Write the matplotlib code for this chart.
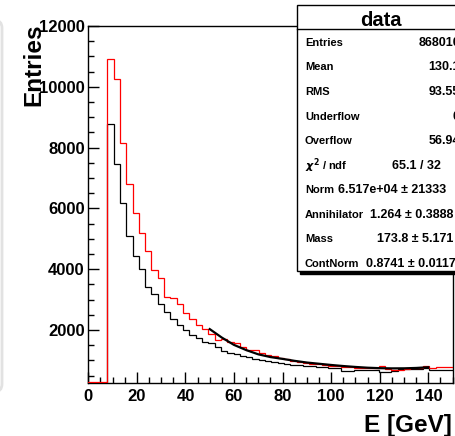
import numpy as np
import matplotlib
matplotlib.use("Agg")
import matplotlib.pyplot as plt
from matplotlib.patches import Rectangle, FancyBboxPatch

plt.rcParams['font.family'] = ['Liberation Sans', 'DejaVu Sans']
plt.rcParams['font.weight'] = 'bold'

# histogram binning (GeV)
bin_width = 2.6
n_bins = 58

# red histogram (data)
red_counts = [300, 300, 300, 10900, 10250, 8140, 6790, 5840, 5200, 4600,
              3975, 3700, 3100, 3040, 2850, 2550, 2370, 2150, 2020, 1870,
              1680, 1690, 1620, 1560, 1430, 1350, 1340, 1250, 1190, 1130,
              1080, 1040, 990, 960, 920, 890, 880, 860, 830, 800,
              790, 770, 760, 750, 740, 750, 820, 730, 700, 700,
              720, 740, 760, 830, 760, 770, 790, 790]

# black histogram
black_counts = [0, 0, 0, 8765, 7450, 6190, 5100, 4430, 4000, 3425,
                3200, 2850, 2600, 2350, 2160, 2000, 1840, 1730, 1600, 1570,
                1450, 1320, 1260, 1200, 1150, 1100, 1060, 1010, 970, 940,
                910, 880, 860, 840, 820, 800, 780, 770, 760, 740,
                660, 660, 700, 700, 700, 700, 630, 630, 640, 710,
                710, 720, 730, 760, 690, 690, 690, 690]

# fit curve
fit_E = [50, 55, 60, 65, 70, 75, 80, 85, 90, 95, 100, 105, 110, 115, 120, 125, 130, 135, 140]
fit_vals = [2030, 1750, 1510, 1340, 1200, 1110, 1050, 985, 930, 890, 850, 815, 785,
            760, 745, 738, 740, 752, 775]

# stats box
stat_labels = ["Entries", "Mean", "RMS", "Underflow", "Overflow", r"$\chi^{2}$ / ndf",
               "Norm", "Annihilator", "Mass", "ContNorm"]
stat_values = ["868010", "130.1", "93.55", "0", "56.94", "65.1 / 32",
               "6.517e+04 \u00b1 21333", "1.264 \u00b1 0.3888", "173.8 \u00b1 5.171",
               "0.8741 \u00b1 0.01172"]
# None -> right aligned at the box edge, else left x in pixels
val_left_x = [None, None, None, None, None, 392, 338, 370, 377, 366]

W, H = 456, 436
fig = plt.figure(figsize=(W / 100, H / 100), dpi=100)
fig.patch.set_facecolor('white')

ax = fig.add_axes([88.3 / W, 1 - 383 / H, (452.6 - 88.3) / W, (383 - 26) / H])
edges = np.arange(n_bins + 1) * bin_width
ax.stairs(black_counts, edges, color='black', lw=0.9, zorder=2)
ax.stairs(red_counts, edges, color='#ff0000', lw=0.9, zorder=3)
ax.plot(fit_E, fit_vals, color='black', lw=1.6, zorder=4)

ax.set_xlim(0, 150)
ax.set_ylim(257, 12000)
ax.set_xticks(np.arange(0, 141, 20))
ax.set_xticks(np.arange(0, 151, 5), minor=True)
ax.set_yticks(np.arange(2000, 12001, 2000))
ax.set_yticks(np.arange(500, 12001, 500), minor=True)
ax.tick_params(which='both', direction='in', top=False, right=False, labelsize=12)
ax.tick_params(which='major', length=8, width=1)
ax.tick_params(which='minor', length=4, width=1)
ax.tick_params(axis='y', pad=2.5)
ax.tick_params(axis='x', pad=4)
for lab in ax.get_xticklabels() + ax.get_yticklabels():
    lab.set_fontweight('bold')
for s in ax.spines.values():
    s.set_linewidth(1)

fig.text(452 / W, 1 - 425 / H, "E [GeV]", ha='right', va='center', fontsize=17.5, fontweight='bold')
fig.text(34 / W, 1 - 24 / H, "Entries", rotation=90, ha='center', va='top', fontsize=17.5, fontweight='bold')

# overlay in pixel coordinates for the stats box
ov = fig.add_axes([0, 0, 1, 1])
ov.set_xlim(0, W)
ov.set_ylim(H, 0)
ov.axis('off')
ov.patch.set_alpha(0)

ov.add_patch(FancyBboxPatch((-30, 20), 32, 372, boxstyle="round,pad=0,rounding_size=8",
                            facecolor='none', edgecolor='#e2e2e2', lw=2))

box_l, box_t, box_b, box_r = 297, 5, 271, 466
ov.add_patch(Rectangle((box_l + 3, box_t + 3), box_r - box_l, box_b - box_t,
                       facecolor='black', edgecolor='black', zorder=5))
ov.add_patch(Rectangle((box_l, box_t), box_r - box_l, box_b - box_t,
                       facecolor='white', edgecolor='black', lw=1, zorder=6))
ov.plot([box_l, box_r], [29.5, 29.5], color='black', lw=1, zorder=7)
ov.text(381, 20, "data", ha='center', va='center', fontsize=14.5, fontweight='bold', zorder=8)

for i, (lab, val) in enumerate(zip(stat_labels, stat_values)):
    y = 43 + 24.5 * i
    ov.text(305, y, lab, ha='left', va='center', fontsize=8, fontweight='bold', zorder=8)
    if val_left_x[i] is None:
        ov.text(460, y, val, ha='right', va='center', fontsize=9, fontweight='bold', zorder=8)
    else:
        ov.text(val_left_x[i], y, val, ha='left', va='center', fontsize=9, fontweight='bold', zorder=8)

fig.savefig("out.png", dpi=100)
